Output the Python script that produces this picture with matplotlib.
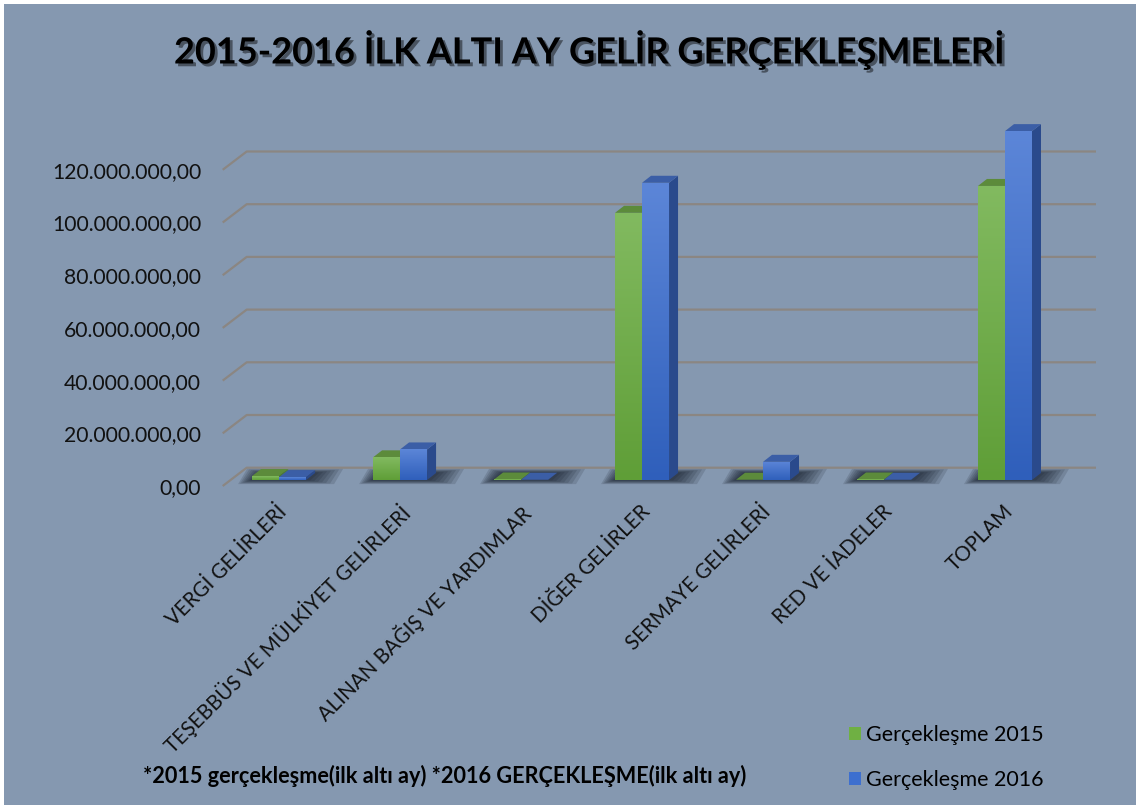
#Grafico de barras con aspecto 3D (estilo Excel)
import numpy as np
import matplotlib
matplotlib.use('Agg')
import matplotlib.pyplot as plt
from matplotlib.patches import Polygon, Rectangle
from matplotlib.colors import LinearSegmentedColormap
from matplotlib.ticker import FuncFormatter
from matplotlib.transforms import ScaledTranslation
import matplotlib.patheffects as pe

plt.rcParams['font.family'] = ['Lato', 'DejaVu Sans']

#==========Datos===============
kategoriler = ['VERGİ GELİRLERİ', 'TEŞEBBÜS VE MÜLKİYET GELİRLERİ', 'ALINAN BAĞIŞ VE YARDIMLAR',
               'DİĞER GELİRLER', 'SERMAYE GELİRLERİ', 'RED VE İADELER', 'TOPLAM']
gercek_2015 = [1.5e6, 8.6e6, 0.2e6, 101.4e6, 0.1e6, 0.2e6, 111.6e6]
gercek_2016 = [1.1e6, 11.6e6, 0.1e6, 112.8e6, 6.9e6, 0.1e6, 132.4e6]
seriler = ['Gerçekleşme 2015', 'Gerçekleşme 2016']
y_ticks = [0, 20e6, 40e6, 60e6, 80e6, 100e6, 120e6]
baslik = '2015-2016 İLK ALTI AY GELİR GERÇEKLEŞMELERİ'
dipnot = '*2015 gerçekleşme(ilk altı ay) *2016 GERÇEKLEŞME(ilk altı ay)'

#==========Estilo===============
FONDO = '#8598b0'
# (frente arriba, frente abajo, lado, tapa)
colores = [('#82ba60', '#5f9e37', '#4e7f2e', '#5c8b3b'),
           ('#5c86d8', '#2f5fbb', '#2a4a8c', '#3b5ea6')]
leyenda_col = ['#6fb043', '#3d6fcf']

W_PX, H_PX = 1136, 805
fig = plt.figure(figsize=(W_PX / 100, H_PX / 100), dpi=100, facecolor='white')
fig.add_artist(Rectangle((4 / W_PX, 0), 1, 1 - 4 / H_PX, transform=fig.transFigure,
                         facecolor=FONDO, edgecolor='none', zorder=-10))

# plano frontal del grafico
izq, der, base, tope = 222.7, 1072, 486, 117.1
ax = fig.add_axes([izq / W_PX, 1 - base / H_PX, (der - izq) / W_PX, (base - tope) / H_PX])
ax.set_facecolor('none')
x0, x1 = -0.40, 6.62
y1 = 140e6
px_x = (x1 - x0) / (der - izq)
px_y = y1 / (base - tope)

WX, WY = 24 * px_x, 18.3 * px_y   # profundidad de las paredes
OX, OY = 8 * px_x, 6 * px_y       # desplazamiento del frente de las barras
DX, DY = 9 * px_x, 7 * px_y       # profundidad de las barras
BW = 27 * px_x                    # ancho de cada barra

# lineas de division (pared lateral + pared trasera)
for t in y_ticks:
    ax.plot([x0, x0 + WX, x1 + WX], [t, t + WY, t + WY], color='#8b8682', lw=1.6,
            clip_on=False, zorder=1, solid_capstyle='butt')

x = np.arange(len(kategoriler))

# sombras en el piso
for i in x:
    l = i + OX - BW
    r = i + OX + BW + DX
    for k in range(7):
        el = (2 + 2.0 * k) * px_x
        er = (4 + 4.0 * k) * px_x
        ey = (0.5 + 0.6 * k) * px_y
        poly = Polygon([(l - el, OY - ey), (r + er - DX, OY - ey),
                        (r + er, OY + DY + ey), (l - el + DX, OY + DY + ey)],
                       closed=True, facecolor='#0d1420', edgecolor='none', alpha=0.14,
                       zorder=2, clip_on=False)
        ax.add_patch(poly)

grad = np.linspace(0, 1, 256).reshape(-1, 1)
for s, vals in enumerate([gercek_2015, gercek_2016]):
    ust, alt, yan, kapak = colores[s]
    cmap = LinearSegmentedColormap.from_list('g%d' % s, [alt, ust])
    xs = x + OX - BW + s * BW
    bars = ax.bar(xs, vals, width=BW, bottom=OY, align='edge', color=ust,
                  edgecolor='none', zorder=3 + 2 * s, clip_on=False)
    for b in bars:
        l, bt = b.get_x(), b.get_y()
        r, t = l + b.get_width(), bt + b.get_height()
        # cara lateral
        ax.add_patch(Polygon([(r, bt), (r + DX, bt + DY), (r + DX, t + DY), (r, t)],
                             facecolor=yan, edgecolor='none', zorder=3 + 2 * s, clip_on=False))
        # tapa
        ax.add_patch(Polygon([(l, t), (l + DX, t + DY), (r + DX, t + DY), (r, t)],
                             facecolor=kapak, edgecolor='none', zorder=3 + 2 * s, clip_on=False))
        # degradado de la cara frontal
        im = ax.imshow(grad, extent=[l, r, bt, t], origin='lower', aspect='auto',
                       cmap=cmap, zorder=4 + 2 * s, interpolation='bilinear')
        im.set_clip_path(b)

ax.set_xlim(x0, x1)
ax.set_ylim(0, y1)
for sp in ax.spines.values():
    sp.set_visible(False)

ax.set_yticks(y_ticks)
ax.yaxis.set_major_formatter(FuncFormatter(
    lambda v, p: '{:,.2f}'.format(v).replace(',', '#').replace('.', ',').replace('#', '.')))
ax.tick_params(axis='y', length=0, pad=15.6, labelsize=15.2, labelcolor='#111111')

ax.set_xticks(x)
ax.set_xticklabels(kategoriler, rotation=45, ha='right', rotation_mode='anchor')
ax.tick_params(axis='x', length=0, pad=11, labelsize=14.8, labelcolor='#111111')
kaydir = ScaledTranslation(6 / 100, 0, fig.dpi_scale_trans)
for lbl in ax.get_xticklabels():
    lbl.set_transform(lbl.get_transform() + kaydir)

# titulo con sombra
fig.text(589 / W_PX, 1 - 50 / H_PX, baslik, ha='center', va='center', fontsize=26,
         fontweight='bold', color='black',
         path_effects=[pe.withSimplePatchShadow(offset=(2, -2), shadow_rgbFace='black', alpha=0.45)])

fig.text(143 / W_PX, 1 - 776 / H_PX, dipnot, ha='left', va='center', fontsize=15.6,
         fontweight='bold', color='black')

handles = [Rectangle((0, 0), 1, 1, facecolor=c, edgecolor='none') for c in leyenda_col]
fig.legend(handles, seriler, loc='upper left', bbox_to_anchor=(849 / W_PX, 1 - 725 / H_PX),
           frameon=False, fontsize=15.5, handlelength=0.55, handleheight=0.55,
           handletextpad=0.25, labelspacing=1.15, borderaxespad=0, borderpad=0)

fig.savefig('out.png', dpi=100, facecolor='white')
